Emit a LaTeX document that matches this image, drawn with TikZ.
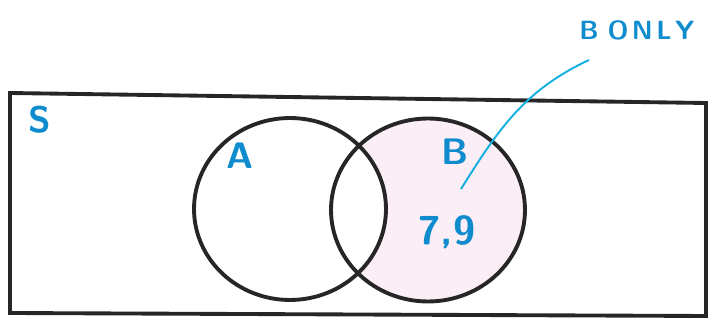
\documentclass[tikz,border=0pt]{standalone}
\usepackage{tikz}
\usepackage{xcolor}
\definecolor{penblue}{RGB}{15,140,205}
\definecolor{leaderblue}{RGB}{20,175,225}
\definecolor{bpink}{RGB}{252,238,246}

\begin{document}
\begin{tikzpicture}[x=0.02cm,y=-0.02cm,
    setline/.style={line width=2.2pt,black!85},
    lbl/.style={text=penblue,font=\sffamily\bfseries\fontsize{21}{21}\selectfont},
    leader/.style={leaderblue,line width=1.1pt}]
  \useasboundingbox (0,0) rectangle (716,323);
  % sample space
  \draw[setline] (10,93) -- (706,103) -- (706,316) -- (10,313) -- cycle;
  % B only shading
  \fill[bpink] (428,210) ellipse [x radius=1.94cm,y radius=1.83cm];
  \fill[white] (290,209) ellipse [x radius=1.92cm,y radius=1.82cm];
  \draw[setline] (290,209) ellipse [x radius=1.92cm,y radius=1.82cm];
  \draw[setline] (428,210) ellipse [x radius=1.94cm,y radius=1.83cm];
  \node[lbl] (S) at (40,120) {S};
  \node[lbl] (A) at (240,156) {A};
  \node[lbl] (B) at (455,152) {B};
  \node[lbl,font=\sffamily\bfseries\fontsize{23}{23}\selectfont] (vals) at (447,232) {7,9};
  \node[lbl,font=\sffamily\bfseries\fontsize{15}{15}\selectfont] (bonly) at (637,30) {B\hspace{5pt}O\hspace{2pt}N\hspace{2pt}L\hspace{2pt}Y};
  \coordinate (tip) at (461,189);
  \draw[leader] ([xshift=9pt,yshift=-8pt]bonly.south west) to[out=205,in=58] (tip);
\end{tikzpicture}
\end{document}
